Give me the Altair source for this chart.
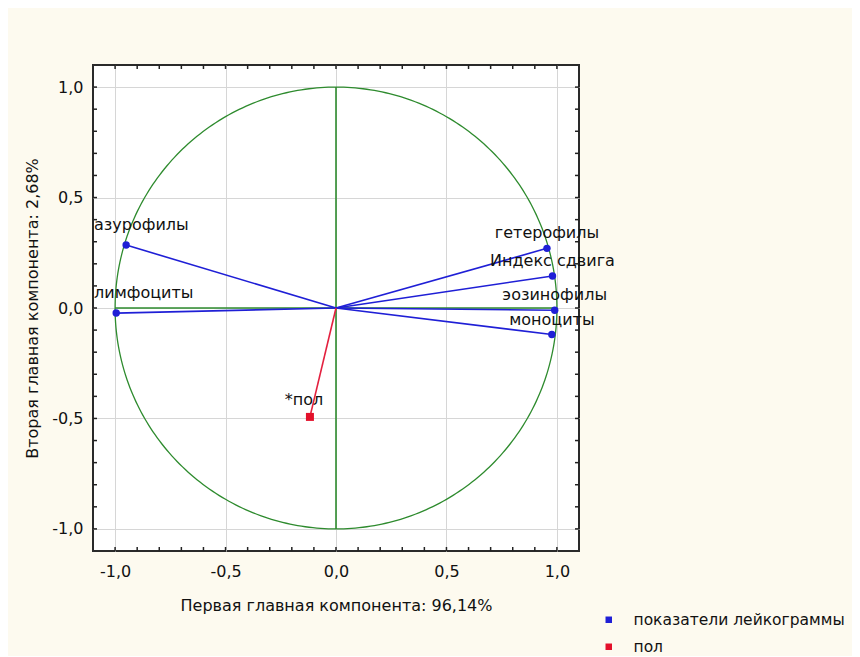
import altair as alt
import pandas as pd
import numpy as np

# ---- data ----
var_names = ["азурофилы", "лимфоциты", "гетерофилы", "Индекс сдвига", "эозинофилы", "моноциты"]
pc1 = [-0.95, -0.995, 0.955, 0.98, 0.99, 0.977]
pc2 = [0.285, -0.023, 0.27, 0.145, -0.01, -0.12]
var_side = ["left", "left", "right", "right", "right", "right"]

sup_names = ["*пол"]
sup_pc1 = [-0.118]
sup_pc2 = [-0.493]

group_names = ["показатели лейкограммы", "пол"]
group_colors = ["#1f1fd6", "#e3102a"]

axis_ticks = [-1.0, -0.5, 0.0, 0.5, 1.0]
minor_ticks = [i / 10 for i in range(-10, 11)]

x_title = "Первая главная компонента: 96,14%"
y_title = "Вторая главная компонента: 2,68%"

# ---- tables ----
vars_df = pd.DataFrame({"name": var_names, "x": pc1, "y": pc2, "side": var_side,
                        "group": group_names[0], "ox": 0.0, "oy": 0.0})
sup_df = pd.DataFrame({"name": sup_names, "x": sup_pc1, "y": sup_pc2,
                       "group": group_names[1], "ox": 0.0, "oy": 0.0})

ang = np.linspace(0, 2 * np.pi, 361)
circle_df = pd.DataFrame({"i": np.arange(len(ang)), "x": np.cos(ang), "y": np.sin(ang)})
cross_df = pd.DataFrame({"x": [-1.0, 0.0], "x2": [1.0, 0.0], "y": [0.0, -1.0], "y2": [0.0, 1.0]})
ticks_df = pd.DataFrame({"t": minor_ticks})

FONT = "DejaVu Sans"
FS = 16
W = H = 486
DOM = [-1.1, 1.1]
label_expr = "replace(replace(format(datum.value, '.1f'), '.', ','), '\u2212', '-')"

xs = alt.Scale(domain=DOM, nice=False, zero=False)
ys = alt.Scale(domain=DOM, nice=False, zero=False)

x_axis = alt.Axis(values=axis_ticks, labelExpr=label_expr, grid=True, gridColor="#d6d6d6",
                  ticks=False, domain=False, labelPadding=12, title=x_title, titlePadding=18,
                  labelFont=FONT, labelFontSize=FS, labelColor="#111", titleFont=FONT,
                  titleFontSize=FS, titleFontWeight="normal", titleColor="#111")
y_axis = alt.Axis(values=axis_ticks, labelExpr=label_expr, grid=True, gridColor="#d6d6d6",
                  ticks=False, domain=False, labelPadding=10, title=y_title, titlePadding=11,
                  labelFont=FONT, labelFontSize=FS, labelColor="#111", titleFont=FONT,
                  titleFontSize=FS, titleFontWeight="normal", titleColor="#111")

base_grid = alt.Chart(ticks_df).mark_point(opacity=0).encode(
    x=alt.X("t:Q", scale=xs, axis=x_axis),
    y=alt.Y("t:Q", scale=ys, axis=y_axis),
)

circle = alt.Chart(circle_df).mark_line(color="#2e8b2e", strokeWidth=1.3).encode(
    x=alt.X("x:Q", scale=xs), y=alt.Y("y:Q", scale=ys), order="i:Q")

cross = alt.Chart(cross_df).mark_rule(color="#2e8b2e", strokeWidth=1.6).encode(
    x=alt.X("x:Q", scale=xs), x2="x2:Q", y=alt.Y("y:Q", scale=ys), y2="y2:Q")

vec_blue = alt.Chart(vars_df).mark_rule(color="#1f1fd6", strokeWidth=1.6).encode(
    x=alt.X("ox:Q", scale=xs), x2="x:Q", y=alt.Y("oy:Q", scale=ys), y2="y:Q")
vec_red = alt.Chart(sup_df).mark_rule(color="#e3203f", strokeWidth=1.6).encode(
    x=alt.X("ox:Q", scale=xs), x2="x:Q", y=alt.Y("oy:Q", scale=ys), y2="y:Q")

color_enc = alt.Color("group:N", scale=alt.Scale(domain=group_names, range=group_colors),
                      legend=alt.Legend(title=None, orient="none", legendX=508, legendY=547,
                                        symbolType="square", symbolSize=42, labelFont=FONT,
                                        labelFontSize=15.5, labelColor="#111", labelOffset=17,
                                        labelLimit=400, rowPadding=10, padding=0,
                                        symbolStrokeWidth=0))

pts_blue = alt.Chart(vars_df).mark_point(filled=True, shape="circle", size=55, opacity=1).encode(
    x=alt.X("x:Q", scale=xs), y=alt.Y("y:Q", scale=ys), color=color_enc)
pts_red = alt.Chart(sup_df).mark_point(filled=True, shape="square", size=64, opacity=1).encode(
    x=alt.X("x:Q", scale=xs), y=alt.Y("y:Q", scale=ys), color=color_enc)

lab_right = alt.Chart(vars_df).transform_filter("datum.side == 'right'").mark_text(
    font=FONT, fontSize=FS, color="#111", align="center", baseline="middle", dy=-15).encode(
    x=alt.X("x:Q", scale=xs), y=alt.Y("y:Q", scale=ys), text="name:N")
lab_left = alt.Chart(vars_df).transform_filter("datum.side == 'left'").mark_text(
    font=FONT, fontSize=FS, color="#111", align="left", baseline="middle", dy=-20).encode(
    x=alt.value(1), y=alt.Y("y:Q", scale=ys), text="name:N")
lab_sup = alt.Chart(sup_df).mark_text(
    font=FONT, fontSize=FS, color="#111", align="center", baseline="middle", dx=-6, dy=-17).encode(
    x=alt.X("x:Q", scale=xs), y=alt.Y("y:Q", scale=ys), text="name:N")

TL = 4
tk_style = dict(color="#222", strokeWidth=1.5)
tick_b = alt.Chart(ticks_df).mark_rule(**tk_style).encode(
    x=alt.X("t:Q", scale=xs), y=alt.value(H), y2=alt.value(H - TL))
tick_t = alt.Chart(ticks_df).mark_rule(**tk_style).encode(
    x=alt.X("t:Q", scale=xs), y=alt.value(0), y2=alt.value(TL))
tick_l = alt.Chart(ticks_df).mark_rule(**tk_style).encode(
    y=alt.Y("t:Q", scale=ys), x=alt.value(0), x2=alt.value(TL))
tick_r = alt.Chart(ticks_df).mark_rule(**tk_style).encode(
    y=alt.Y("t:Q", scale=ys), x=alt.value(W), x2=alt.value(W - TL))

chart = alt.layer(
    base_grid, circle, cross, vec_blue, vec_red, pts_blue, pts_red,
    lab_right, lab_left, lab_sup, tick_b, tick_t, tick_l, tick_r
).properties(
    width=W, height=H,
    background="#fdfaef",
    autosize=alt.AutoSizeParams(type="none"),
    padding={"left": 85, "top": 57, "right": 273, "bottom": 105},
).configure_view(
    fill="white", stroke="#2a2a2a", strokeWidth=2
)

chart.save("out.html", embed_options={"renderer": "svg", "actions": False})
